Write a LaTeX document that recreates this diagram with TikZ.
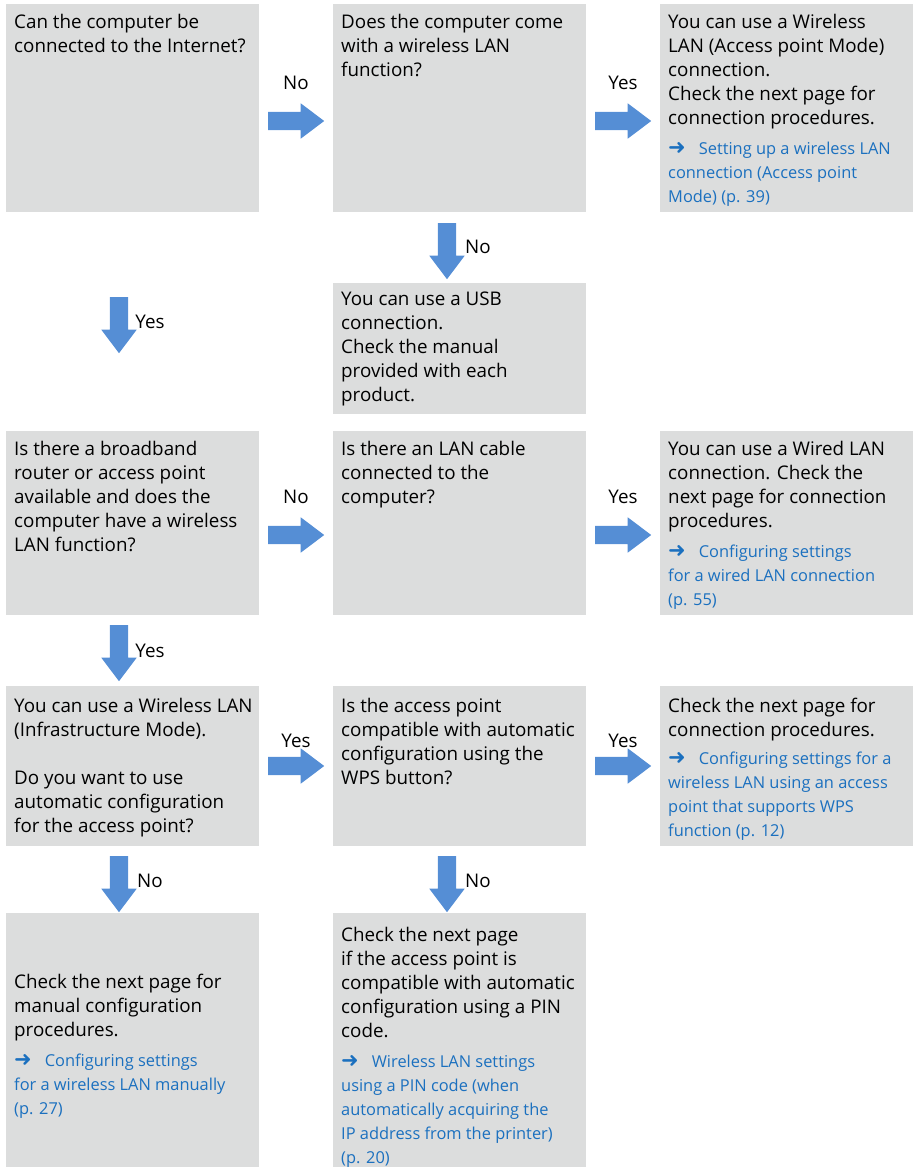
\documentclass[tikz,border=0pt]{standalone}
\usepackage{fontspec}
\setmainfont{Open Sans}
\newfontfamily\symfont{DejaVu Sans}
\usetikzlibrary{shapes.arrows}
\definecolor{boxgray}{HTML}{DCDDDD}
\definecolor{arrowblue}{HTML}{558ED5}
\definecolor{linkblue}{HTML}{1B70BF}
\newcommand\lk[1]{{\color{linkblue}\fontsize{16.4}{24}\selectfont #1}}
\newcommand\lkarrow{{\symfont\fontsize{21}{24}\selectfont\char"279C}\hspace{13pt}}
\begin{document}
\begin{tikzpicture}[x=1pt,y=-1pt,
 box/.style={fill=boxgray, draw=none, anchor=north west, inner sep=0, minimum width=253pt},
 txt/.style={anchor=north west, inner sep=0, align=left, font=\fontsize{18.8}{24}\selectfont},
 rarr/.style={single arrow, fill=arrowblue, draw=none, inner sep=9pt, minimum height=56pt, minimum width=35pt, single arrow head extend=8.5pt, single arrow tip angle=74, anchor=tail},
 darr/.style={rarr, shape border rotate=270},
 lbl/.style={font=\fontsize{18.8}{24}\selectfont, inner sep=0}
]
\useasboundingbox (0,0) rectangle (914,1167);
% boxes
\node[box, minimum height=208pt] (b11) at (6,4) {};
\node[box, minimum height=208pt] (b12) at (333,4) {};
\node[box, minimum height=208pt] (b13) at (660,4) {};
\node[box, minimum height=131pt] (b2) at (333,283) {};
\node[box, minimum height=184pt] (b31) at (6,431) {};
\node[box, minimum height=184pt] (b32) at (333,431) {};
\node[box, minimum height=184pt] (b33) at (660,431) {};
\node[box, minimum height=160pt] (b41) at (6,686) {};
\node[box, minimum height=160pt] (b42) at (333,686) {};
\node[box, minimum height=160pt] (b43) at (660,686) {};
\node[box, minimum height=254pt] (b51) at (6,913) {};
\node[box, minimum height=254pt] (b52) at (333,913) {};
% texts
\node[txt] (t11) at (14,14) {Can the computer be\\connected to the Internet?};
\node[txt] (t12) at (341,14) {Does the computer come\\with a wireless LAN\\function?};
\node[txt] (t13) at (668,14) {You can use a Wireless\\LAN (Access point Mode)\\connection.\\Check the next page for\\connection procedures.\\[6pt]
 \lk{\lkarrow Setting up a wireless LAN}\\\lk{connection (Access point}\\\lk{Mode) (p. 39)}};
\node[txt] (t2) at (341,292) {You can use a USB\\connection.\\Check the manual\\provided with each\\product.};
\node[txt] (t31) at (14,441) {Is there a broadband\\router or access point\\available and does the\\computer have a wireless\\LAN function?};
\node[txt] (t32) at (341,441) {Is there an LAN cable\\connected to the\\computer?};
\node[txt] (t33) at (668,441) {You can use a Wired LAN\\connection. Check the\\next page for connection\\procedures.\\[6pt]
 \lk{\lkarrow Configuring settings}\\\lk{for a wired LAN connection}\\\lk{(p. 55)}};
\node[txt] (t41) at (14,698) {You can use a Wireless LAN\\(Infrastructure Mode).\\[24pt]Do you want to use\\automatic configuration\\for the access point?};
\node[txt] (t42) at (341,698) {Is the access point\\compatible with automatic\\configuration using the\\WPS button?};
\node[txt] (t43) at (668,698) {Check the next page for\\connection procedures.\\[4pt]
 \lk{\lkarrow Configuring settings for a}\\\lk{wireless LAN using an access}\\\lk{point that supports WPS}\\\lk{function (p. 12)}};
\node[txt] (t51) at (14,974) {Check the next page for\\manual configuration\\procedures.\\[6pt]
 \lk{\lkarrow Configuring settings}\\\lk{for a wireless LAN manually}\\\lk{(p. 27)}};
\node[txt] (t52) at (341,927) {Check the next page\\if the access point is\\compatible with automatic\\configuration using a PIN\\code.\\[6pt]
 \lk{\lkarrow Wireless LAN settings}\\\lk{using a PIN code (when}\\\lk{automatically acquiring the}\\\lk{IP address from the printer)}\\\lk{(p. 20)}};
% arrows
\node[rarr] (a1) at (268,121) {};
\node[rarr] (a2) at (595,121) {};
\node[darr] (a3) at (447,223) {};
\node[darr] (a4) at (119,297) {};
\node[rarr] (a5) at (268,535) {};
\node[rarr] (a6) at (595,535) {};
\node[darr] (a7) at (119,625) {};
\node[rarr] (a8) at (268,766) {};
\node[rarr] (a9) at (595,766) {};
\node[darr] (a10) at (119,856) {};
\node[darr] (a11) at (447,856) {};
% labels
\node[lbl] (l1) at (296,83) {No};
\node[lbl] (l2) at (623,83) {Yes};
\node[lbl] (l3) at (478,247) {No};
\node[lbl] (l4) at (150,322) {Yes};
\node[lbl] (l5) at (296,497) {No};
\node[lbl] (l6) at (623,497) {Yes};
\node[lbl] (l7) at (150,651) {Yes};
\node[lbl] (l8) at (296,741) {Yes};
\node[lbl] (l9) at (623,741) {Yes};
\node[lbl] (l10) at (150,881) {No};
\node[lbl] (l11) at (478,881) {No};
\end{tikzpicture}
\end{document}
